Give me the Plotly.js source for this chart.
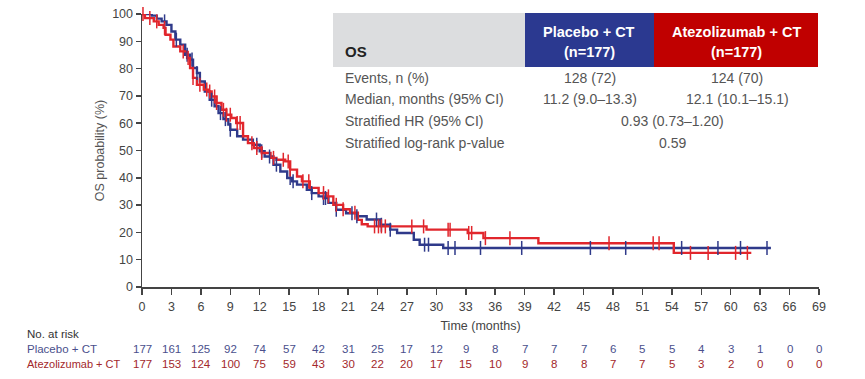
<!DOCTYPE html>
<html>
<head>
<meta charset="utf-8">
<script src="https://cdn.plot.ly/plotly-3.0.1.min.js"></script>
<style>
html,body{margin:0;padding:0;background:#fff;}
#chart{width:865px;height:379px;}
</style>
</head>
<body>
<div id="chart"></div>
<script>
// ---- Data ----
var placeboTimes = [0,1.0,1.5,2.0,2.5,3.0,3.4,3.9,4.4,4.9,5.2,5.6,5.9,6.4,6.9,7.4,7.8,8.3,8.8,9.0,9.7,10.3,11.3,12.0,12.5,13.4,14.1,14.8,15.3,15.8,16.8,17.3,18.0,18.5,19.0,19.8,20.8,21.9,22.9,24.3,25.3,26.0,27.7,28.3,30.7,64.1];
var placeboSurv  = [100,99.4,98.3,97.3,96.0,93.6,90.6,88.8,85.1,83.3,80.2,78.4,75.3,71.6,68.6,66.2,63.7,61.5,59.5,57.6,55.2,54.0,52.1,49.7,47.8,44.8,42.3,39.9,38.7,37.5,35.6,34.4,33.2,32.6,30.8,28.3,27.0,25.9,24.7,22.8,21.0,19.8,17.3,15.5,14.3,14.3];
var placeboCensor = [2.3,3.5,4.6,5.1,5.6,7.1,8.0,8.5,9.0,11.7,12.2,13.0,13.7,15.1,15.4,17.3,18.5,18.7,19.8,21.4,21.9,23.9,24.4,25.3,28.8,29.2,31.2,31.9,34.5,38.7,45.7,49.3,55.0,58.7,61.0,63.7];

var atezoTimes = [0,0.3,1.2,1.7,2.2,2.4,2.9,3.2,3.9,4.6,4.9,5.2,5.6,6.3,6.8,7.1,7.6,8.1,8.6,9.1,9.6,10.3,10.8,11.4,12.2,13.1,13.7,14.6,15.1,15.8,16.3,17.1,18.0,18.8,19.5,20.5,21.2,22.0,22.4,23.0,29.0,33.2,34.8,40.4,54.2,62.1];
var atezoSurv  = [100,98.5,97.3,96.0,94.9,92.4,90.6,88.1,86.3,83.9,80.2,76.6,74.1,72.3,71.6,69.8,67.4,64.9,63.1,61.9,60.1,55.2,52.7,50.9,49.1,47.3,46.6,46.0,43.0,40.5,38.7,36.3,34.4,33.2,30.1,28.5,27.2,24.6,23.0,22.2,21.0,19.8,17.9,16.0,12.5,12.5];
var atezoCensor = [0.1,0.8,1.5,2.3,4.2,4.7,5.2,5.9,6.6,6.9,7.4,7.6,8.3,8.6,9.0,9.7,10.0,11.2,11.7,12.2,13.4,14.4,14.9,15.1,16.4,17.0,18.5,19.0,19.8,20.5,21.7,23.7,24.1,24.4,24.8,27.5,28.7,31.2,31.4,33.3,33.6,35.0,37.5,47.6,52.1,52.7,55.9,57.7,60.5,61.7];

var riskTimes = [0,3,6,9,12,15,18,21,24,27,30,33,36,39,42,45,48,51,54,57,60,63,66,69];
var placeboRisk = [177,161,125,92,74,57,42,31,25,17,12,9,8,7,7,7,6,5,5,4,3,1,0,0];
var atezoRisk   = [177,153,124,100,75,59,43,30,22,20,17,15,10,9,8,8,7,7,5,3,2,0,0,0];

var armLabels = ["Placebo + CT", "Atezolizumab + CT"];
var armN = ["(n=177)", "(n=177)"];
var rowLabels = ["Events, n (%)", "Median, months (95% CI)", "Stratified HR (95% CI)", "Stratified log-rank p-value"];
var placeboVals = ["128 (72)", "11.2 (9.0\u201313.3)"];
var atezoVals = ["124 (70)", "12.1 (10.1\u201315.1)"];
var sharedVals = ["0.93 (0.73\u20131.20)", "0.59"];

// ---- Styling ----
var BLUE = "#2f3a8a", RED = "#e1262c";
var HDR_BLUE = "#2b3990", HDR_RED = "#c00000", HDR_GRAY = "#dcdddf";
var FONT = "Liberation Sans, Arial, sans-serif";
var W = 865, H = 379, L = 142, R = 819, T = 14, B = 287;
function px(x){ return (x - L) / (R - L); }
function py(y){ return (B - y) / (B - T); }

function survAt(times, surv, t){
  var v = surv[0];
  for (var i = 0; i < times.length; i++){ if (times[i] <= t) v = surv[i]; }
  return v;
}

var traces = [
  {x: placeboTimes, y: placeboSurv, type: "scatter", mode: "lines", line: {shape: "hv", color: BLUE, width: 2.4}, cliponaxis: false, hoverinfo: "skip"},
  {x: atezoTimes, y: atezoSurv, type: "scatter", mode: "lines", line: {shape: "hv", color: RED, width: 2.4}, cliponaxis: false, hoverinfo: "skip"},
  {x: placeboCensor, y: placeboCensor.map(function(t){return survAt(placeboTimes, placeboSurv, t);}), type: "scatter", mode: "markers",
   marker: {symbol: "line-ns", size: 10, line: {color: BLUE, width: 1.5}}, cliponaxis: false, hoverinfo: "skip"},
  {x: atezoCensor, y: atezoCensor.map(function(t){return survAt(atezoTimes, atezoSurv, t);}), type: "scatter", mode: "markers",
   marker: {symbol: "line-ns", size: 10, line: {color: RED, width: 1.5}}, cliponaxis: false, hoverinfo: "skip"}
];

var shapes = [
  {type: "rect", xref: "paper", yref: "paper", x0: px(333), x1: px(525), y0: py(67), y1: py(13), fillcolor: HDR_GRAY, line: {width: 0}},
  {type: "rect", xref: "paper", yref: "paper", x0: px(525), x1: px(654), y0: py(67), y1: py(13), fillcolor: HDR_BLUE, line: {width: 0}},
  {type: "rect", xref: "paper", yref: "paper", x0: px(654), x1: px(818), y0: py(67), y1: py(13), fillcolor: HDR_RED, line: {width: 0}}
];

var ann = [];
function addText(text, x, y, opts){
  var a = {text: text, xref: "paper", yref: "paper", x: px(x), y: py(y), showarrow: false,
           xanchor: opts.xanchor || "center", yanchor: "middle",
           font: {family: FONT, size: opts.size || 14, color: opts.color || "#555"}};
  ann.push(a);
}
// header
addText("<b>OS</b>", 343, 52, {xanchor: "left", size: 15, color: "#222"});
addText("<b>" + armLabels[0] + "</b>", 589, 32, {size: 14.5, color: "#fff"});
addText("<b>" + armN[0] + "</b>", 589, 52, {size: 14.5, color: "#fff"});
addText("<b>" + armLabels[1] + "</b>", 736, 32, {size: 14.5, color: "#fff"});
addText("<b>" + armN[1] + "</b>", 736, 52, {size: 14.5, color: "#fff"});
// rows
var rowY = [78, 99, 121, 143];
for (var i = 0; i < rowLabels.length; i++){
  addText(rowLabels[i], 343, rowY[i], {xanchor: "left", size: 14, color: "#555"});
}
for (var i = 0; i < placeboVals.length; i++){
  addText(placeboVals[i], 590, rowY[i], {size: 14, color: "#555"});
  addText(atezoVals[i], 737, rowY[i], {size: 14, color: "#555"});
}
for (var i = 0; i < sharedVals.length; i++){
  addText(sharedVals[i], 672, rowY[i + 2], {size: 14, color: "#555"});
}
// at-risk table
addText("No. at risk", 25, 334, {xanchor: "left", size: 11.5, color: "#333"});
addText(armLabels[0], 25, 349, {xanchor: "left", size: 11.5, color: "#4a4f8c"});
addText(armLabels[1], 25, 364, {xanchor: "left", size: 11, color: "#a3282b"});
for (var i = 0; i < riskTimes.length; i++){
  ann.push({text: String(placeboRisk[i]), xref: "x", yref: "paper", x: riskTimes[i], y: py(349), showarrow: false,
            xanchor: "center", yanchor: "middle", font: {family: FONT, size: 11.5, color: "#4a4f8c"}});
  ann.push({text: String(atezoRisk[i]), xref: "x", yref: "paper", x: riskTimes[i], y: py(364), showarrow: false,
            xanchor: "center", yanchor: "middle", font: {family: FONT, size: 11.5, color: "#a3282b"}});
}

var layout = {
  width: W, height: H,
  margin: {l: L, r: W - R, t: T, b: H - B, pad: 0},
  paper_bgcolor: "#fff", plot_bgcolor: "#fff",
  showlegend: false,
  font: {family: FONT, size: 12, color: "#444"},
  xaxis: {range: [0, 69], tickmode: "array", tickvals: riskTimes, ticktext: riskTimes.map(String),
          showgrid: false, zeroline: false, showline: true, linecolor: "#444", linewidth: 1.5,
          ticks: "outside", ticklen: 6, tickwidth: 1.5, tickcolor: "#444", ticklabelstandoff: 1,
          tickfont: {family: FONT, size: 12.5, color: "#444"},
          title: {text: "Time (months)", font: {family: FONT, size: 12.5, color: "#444"}, standoff: 8},
          fixedrange: true},
  yaxis: {range: [0, 100], tickmode: "array", tickvals: [0,10,20,30,40,50,60,70,80,90,100],
          showgrid: false, zeroline: false, showline: true, linecolor: "#444", linewidth: 1.5,
          ticks: "outside", ticklen: 5, tickwidth: 1.5, tickcolor: "#444",
          tickfont: {family: FONT, size: 12.5, color: "#444"},
          title: {text: "OS probability (%)", font: {family: FONT, size: 12.5, color: "#555"}, standoff: 5},
          fixedrange: true},
  shapes: shapes,
  annotations: ann
};

Plotly.newPlot("chart", traces, layout, {displayModeBar: false, staticPlot: true});
</script>
</body>
</html>
